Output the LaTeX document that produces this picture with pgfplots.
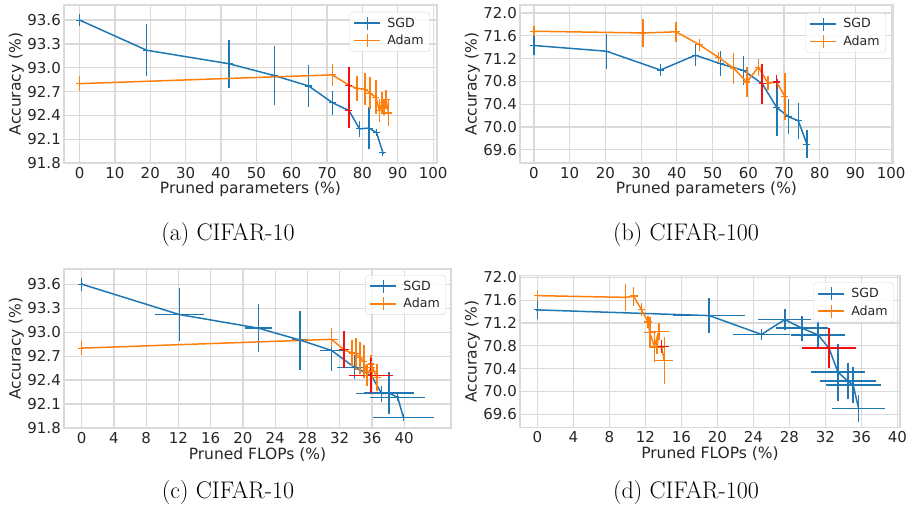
\documentclass[border=0pt]{standalone}
\usepackage{fontspec}
\usepackage{pgfplots}
\pgfplotsset{compat=1.18}
\newfontfamily\dv{DejaVu Sans}
\definecolor{sgdc}{HTML}{1F77B4}
\definecolor{adamc}{HTML}{FF7F0E}
\definecolor{hl}{HTML}{F21010}
\definecolor{gridc}{HTML}{DADADA}
\definecolor{labc}{HTML}{262626}
\pgfplotsset{
  panel/.style={
    scale only axis,
    axis line style={draw=gridc, line width=1.2pt},
    grid=major,
    major grid style={draw=gridc, line width=1.2pt},
    major tick length=0pt, tick style={draw=none},
    /pgf/number format/assume math mode=true,
    ticklabel style={font=\dv\fontsize{15}{18}\selectfont, text=labc, inner sep=0pt},
    yticklabel style={anchor=east, xshift=-3pt, /pgf/number format/.cd, fixed, fixed zerofill, precision=1},
    xticklabel style={anchor=north, yshift=-4pt},
    label style={font=\dv\fontsize{15.5}{18}\selectfont, text=labc, inner sep=0pt},
    ylabel={Accuracy (\%)},
    legend style={font=\dv\fontsize{12.6}{15}\selectfont, text=labc, draw=gridc, fill=white, fill opacity=0.8, draw opacity=1, text opacity=1, rounded corners=3pt, inner xsep=4pt, inner ysep=3.5pt, row sep=2.5pt, nodes={inner sep=2pt}, /tikz/every odd column/.append style={column sep=4pt}},
    legend cell align=left,
  },
  sgdplot/.style={sgdc, line width=1.5pt, mark=+, mark size=3.5pt, mark options={line width=1.1pt, solid}, forget plot},
  adamplot/.style={adamc, line width=1.5pt, mark=+, mark size=3.5pt, mark options={line width=1.1pt, solid}, forget plot},
  hlplot/.style={hl, line width=1.6pt, mark=+, mark size=3.5pt, mark options={line width=1.1pt, solid}, forget plot},
  legsgd/.style={legend image code/.code={\draw[sgdc, line width=1.8pt, opacity=1] (0pt,0pt) -- (26pt,0pt); \draw[sgdc, line width=1.8pt, opacity=1] (13pt,-6.5pt) -- (13pt,6.5pt);}},
  legadam/.style={legend image code/.code={\draw[adamc, line width=1.8pt, opacity=1] (0pt,0pt) -- (26pt,0pt); \draw[adamc, line width=1.8pt, opacity=1] (13pt,-6.5pt) -- (13pt,6.5pt);}},
  eby/.style={error bars/.cd, y dir=both, y explicit, error mark=none, error bar style={line width=1.5pt}},
  ebxy/.style={error bars/.cd, x dir=both, x explicit, y dir=both, y explicit, error mark=none, error bar style={line width=1.5pt}},
}
\begin{document}
\begin{tikzpicture}
\useasboundingbox (0pt,0pt) rectangle (912pt,-507pt);
% ---------------- (a)
\begin{axis}[panel, at={(64pt,-5pt)}, anchor=north west, width=373pt, height=158pt,
  xmin=-4.4, xmax=101.1, ymin=91.8, ymax=93.79,
  xtick={0,10,...,100}, ytick={91.8,92.1,92.4,92.7,93.0,93.3,93.6},
  xlabel={Pruned parameters (\%)},
  xlabel style={at={(axis description cs:0.5,-0.12)}, anchor=north},
  ylabel style={at={(axis description cs:-0.107,0.5)}, anchor=south},
  legend style={at={(axis description cs:0.981,0.956)}, anchor=north east}]
\addlegendimage{legsgd}\addlegendentry{SGD}
\addlegendimage{legadam}\addlegendentry{Adam}
\addplot[sgdplot, eby] table[x=x, y=y, y error=ey] {
x y ey
0 93.60 0.08
19.0 93.22 0.33
42.3 93.05 0.30
55.2 92.90 0.37
64.8 92.77 0.26
71.5 92.56 0.15
76.2 92.46 0.22
79.2 92.23 0.10
81.9 92.24 0.26
84.0 92.18 0.02
85.8 91.93 0.01
};
\addplot[adamplot, eby] table[x=x, y=y, y error=ey] {
x y ey
0 92.80 0.09
71.5 92.91 0.14
76.2 92.78 0.23
78.5 92.74 0.16
80.7 92.73 0.20
82.1 92.68 0.20
83.8 92.63 0.21
84.8 92.46 0.14
85.6 92.56 0.14
86.1 92.51 0.10
86.7 92.60 0.12
87.4 92.43 0.17
};
\addplot[hlplot, eby] table[x=x, y=y, y error=ey] {
x y ey
76.2 92.46 0.22
};
\addplot[hlplot, eby] table[x=x, y=y, y error=ey] {
x y ey
76.2 92.78 0.23
};
\end{axis}
% ---------------- (b)
\begin{axis}[panel, at={(520pt,-5pt)}, anchor=north west, width=373pt, height=158pt,
  xmin=-3.9, xmax=100.5, ymin=69.37, ymax=72.14,
  xtick={0,10,...,100}, ytick={69.6,70.0,70.4,70.8,71.2,71.6,72.0},
  xlabel={Pruned parameters (\%)},
  xlabel style={at={(axis description cs:0.5,-0.12)}, anchor=north},
  ylabel style={at={(axis description cs:-0.107,0.5)}, anchor=south},
  legend style={at={(axis description cs:0.981,0.95)}, anchor=north east}]
\addlegendimage{legsgd}\addlegendentry{SGD}
\addlegendimage{legadam}\addlegendentry{Adam}
\addplot[sgdplot, eby] table[x=x, y=y, y error=ey] {
x y ey
0 71.43 0.16
20.3 71.33 0.31
35.4 71.00 0.10
45.2 71.26 0.19
52.2 71.11 0.22
58.7 70.99 0.25
63.9 70.76 0.35
68.0 70.34 0.50
71.3 70.18 0.31
74.0 70.11 0.32
76.4 69.70 0.24
};
\addplot[adamplot, eby] table[x=x, y=y, y error=ey] {
x y ey
0 71.68 0.09
30.5 71.65 0.24
39.8 71.67 0.17
46.4 71.44 0.11
51.7 71.22 0.10
55.9 71.03 0.27
59.6 70.79 0.27
62.8 71.05 0.15
65.5 70.77 0.12
67.9 70.79 0.12
70.2 70.54 0.41
};
\addplot[hlplot, eby] table[x=x, y=y, y error=ey] {
x y ey
63.9 70.76 0.35
};
\addplot[hlplot, eby] table[x=x, y=y, y error=ey] {
x y ey
67.9 70.79 0.12
};
\end{axis}
% ---------------- (c)
\begin{axis}[panel, at={(64pt,-269pt)}, anchor=north west, width=387pt, height=159pt,
  xmin=-2.2, xmax=45.8, ymin=91.8, ymax=93.79,
  xtick={0,4,...,40}, ytick={91.8,92.1,92.4,92.7,93.0,93.3,93.6},
  xlabel={Pruned FLOPs (\%)},
  xlabel style={at={(axis description cs:0.5,-0.12)}, anchor=north},
  ylabel style={at={(axis description cs:-0.103,0.5)}, anchor=south},
  legend style={at={(axis description cs:0.987,0.962)}, anchor=north east}]
\addlegendimage{legsgd}\addlegendentry{SGD}
\addlegendimage{legadam}\addlegendentry{Adam}
\addplot[sgdplot, ebxy] table[x=x, y=y, x error=ex, y error=ey] {
x ex y ey
0 0.1 93.60 0.08
12.1 3.05 93.22 0.33
21.9 1.7 93.05 0.30
27.1 1.0 92.90 0.37
31.0 1.5 92.77 0.26
33.8 2.2 92.56 0.15
35.9 2.7 92.46 0.22
37.2 3.2 92.23 0.10
38.1 3.1 92.24 0.26
39.2 3.4 92.18 0.02
39.9 3.8 91.93 0.01
};
\addplot[adamplot, ebxy] table[x=x, y=y, x error=ex, y error=ey] {
x ex y ey
0 0.1 92.80 0.09
31.0 0.8 92.91 0.14
32.5 0.6 92.78 0.23
33.5 0.4 92.74 0.16
34.0 0.4 92.73 0.20
34.5 0.4 92.68 0.20
35.0 0.4 92.63 0.21
35.4 0.5 92.46 0.14
35.9 0.5 92.56 0.14
36.0 0.5 92.51 0.10
35.9 0.4 92.60 0.12
36.6 0.5 92.43 0.17
};
\addplot[hlplot, ebxy] table[x=x, y=y, x error=ex, y error=ey] {
x ex y ey
35.9 2.7 92.46 0.22
};
\addplot[hlplot, ebxy] table[x=x, y=y, x error=ex, y error=ey] {
x ex y ey
32.5 0.6 92.78 0.23
};
\end{axis}
% ---------------- (d)
\begin{axis}[panel, at={(520pt,-275.7pt)}, anchor=north west, width=380pt, height=151.6pt,
  xmin=-1.93, xmax=40.3, ymin=69.37, ymax=72.03,
  xtick={0,4,...,40}, ytick={69.6,70.0,70.4,70.8,71.2,71.6,72.0},
  xlabel={Pruned FLOPs (\%)},
  xlabel style={at={(axis description cs:0.5,-0.125)}, anchor=north},
  ylabel style={at={(axis description cs:-0.105,0.5)}, anchor=south},
  legend style={at={(axis description cs:0.984,0.955)}, anchor=north east}]
\addlegendimage{legsgd}\addlegendentry{SGD}
\addlegendimage{legadam}\addlegendentry{Adam}
\addplot[sgdplot, ebxy] table[x=x, y=y, x error=ex, y error=ey] {
x ex y ey
0 0.1 71.43 0.16
19.1 4.0 71.33 0.31
24.9 3.2 71.00 0.10
27.5 2.95 71.26 0.19
29.4 2.9 71.11 0.22
31.2 3.0 70.99 0.25
32.4 3.0 70.76 0.35
33.4 3.0 70.34 0.50
34.5 3.1 70.18 0.31
35.1 3.05 70.11 0.32
35.7 2.95 69.70 0.24
};
\addplot[adamplot, ebxy] table[x=x, y=y, x error=ex, y error=ey] {
x ex y ey
0 0.1 71.68 0.09
9.8 0.35 71.65 0.24
10.7 0.45 71.67 0.17
11.55 0.35 71.44 0.11
12.3 0.45 71.22 0.10
12.5 0.7 71.03 0.27
13.0 0.6 70.79 0.27
13.5 1.1 71.05 0.15
13.3 0.9 70.77 0.12
13.8 0.85 70.79 0.12
14.1 1.0 70.54 0.41
};
\addplot[hlplot, ebxy] table[x=x, y=y, x error=ex, y error=ey] {
x ex y ey
32.4 3.0 70.76 0.35
};
\addplot[hlplot, ebxy] table[x=x, y=y, x error=ex, y error=ey] {
x ex y ey
13.8 0.85 70.79 0.12
};
\end{axis}
\node[font=\fontsize{24}{29}\selectfont] at (228pt,-235pt) {(a) CIFAR-10};
\node[font=\fontsize{24}{29}\selectfont] at (686pt,-235pt) {(b) CIFAR-100};
\node[font=\fontsize{24}{29}\selectfont] at (228pt,-492pt) {(c) CIFAR-10};
\node[font=\fontsize{24}{29}\selectfont] at (686pt,-492pt) {(d) CIFAR-100};
\end{tikzpicture}
\end{document}
